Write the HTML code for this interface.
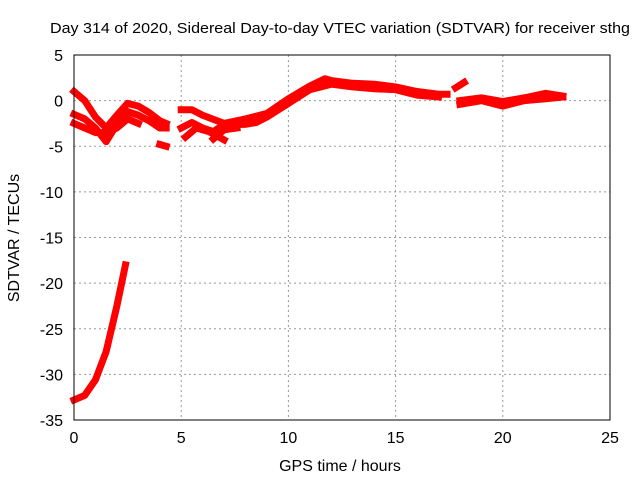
<!DOCTYPE html>
<html><head><meta charset="utf-8"><style>
body{margin:0;background:#fff;}
svg{display:block;font-family:"Liberation Sans",sans-serif;}
</style></head><body>
<svg id="chart" width="640" height="480">
<text x="340" y="33" font-size="15" text-anchor="middle" textLength="580" lengthAdjust="spacingAndGlyphs">Day 314 of 2020, Sidereal Day-to-day VTEC variation (SDTVAR) for receiver sthg</text>
<text x="340" y="471" font-size="16" text-anchor="middle">GPS time / hours</text>
<text transform="translate(19,238) rotate(-90)" font-size="16" text-anchor="middle">SDTVAR / TECUs</text>
<g id="grid"></g><g id="marks"></g>
<rect x="74" y="55" width="536" height="365" fill="none" stroke="#000"/>
</svg>
<script>
const xTicks=[0,5,10,15,20,25];
const yTicks=[5,0,-5,-10,-15,-20,-25,-30,-35];
const track1=[[0,1],[0.5,0],[1,-1.8],[1.5,-3],[2,-1.6],[2.5,-0.3],[3,-0.6],[3.5,-1.3],[4,-2.2],[4.3,-2.5]];
const track2=[[0,-1.5],[0.5,-2],[1,-3],[1.5,-4.5],[2,-2.6],[2.5,-1.2],[3,-1.6],[3.5,-2.2],[4,-3],[4.3,-3]];
const track3=[[0,-2.5],[0.5,-3],[1,-3.5],[1.5,-3.5],[2,-3],[2.5,-2],[3,-2.5]];
const blob=[[4,-4.8],[4.3,-5]];
const track4=[[5,-1],[5.5,-1],[6,-1.6],[7,-2.5],[8,-2],[9,-1.4],[10,0.2],[11,1.6],[11.7,2.4],[12,2.2],[13,1.9],[14,1.8],[15,1.5],[16,1],[17,0.7],[17.4,0.7]];
const track5=[[5,-3],[5.5,-2.4],[6,-3],[6.5,-3.4],[7,-2.6],[8,-2.6],[8.5,-2.4],[9,-1.8],[10,-0.3],[11,1.2],[12,1.8],[13,1.5],[14,1.3],[15,1.2],[16,0.6],[17,0.4]];
const track6=[[5.2,-4],[5.7,-3],[6.3,-3.4],[7,-4.3]];
const track7=[[6.5,-4.2],[7,-3.2],[7.6,-3]];
const track8=[[17.8,1.4],[18.2,2]];
const track9=[[18,0],[19,0.3],[20,-0.1],[21,0.3],[22,0.8],[22.8,0.5]];
const track10=[[18,-0.4],[19,0],[20,-0.6],[21,0],[22,0.2],[22.8,0.4]];
const track11=[[0,-32.8],[0.5,-32.3],[1,-30.6],[1.5,-27.5],[2,-22.5],[2.4,-18]];
const series=[track1,track2,track3,blob,track4,track5,track6,track7,track8,track9,track10,track11];
const X=h=>74+h*536/25, Y=v=>55+(5-v)*365/40;
const NS="http://www.w3.org/2000/svg";
const g=document.getElementById('grid'), m=document.getElementById('marks');
xTicks.forEach(t=>{
 const l=document.createElementNS(NS,'line');
 
 
 l.setAttribute('x1',X(t));l.setAttribute('x2',X(t));l.setAttribute('y1',55);l.setAttribute('y2',420);
 l.setAttribute('stroke',(t==0||t==25)?'none':'#999');l.setAttribute('stroke-dasharray','2,3');g.appendChild(l);
 const tx=document.createElementNS(NS,'text');
 
 
 tx.setAttribute('x',X(t));tx.setAttribute('y',443);tx.setAttribute('font-size','16');tx.setAttribute('text-anchor','middle');tx.textContent=t;g.appendChild(tx);
});
yTicks.forEach(t=>{
 const l=document.createElementNS(NS,'line');
 
 
 l.setAttribute('x1',74);l.setAttribute('x2',610);l.setAttribute('y1',Y(t));l.setAttribute('y2',Y(t));
 l.setAttribute('stroke',(t==5||t==-35)?'none':'#999');l.setAttribute('stroke-dasharray','2,3');g.appendChild(l);
 const tx=document.createElementNS(NS,'text');
 
 
 tx.setAttribute('x',63);tx.setAttribute('y',Y(t)+6);tx.setAttribute('font-size','16');tx.setAttribute('text-anchor','end');tx.textContent=t;g.appendChild(tx);
});
series.forEach(s=>{
 const p=document.createElementNS(NS,'polyline');
 
 
 p.setAttribute('points',s.map(d=>X(d[0])+','+Y(d[1])).join(' '));
 p.setAttribute('fill','none');p.setAttribute('stroke','#f00');p.setAttribute('stroke-width','7');
 p.setAttribute('stroke-linejoin','round');p.setAttribute('stroke-linecap','square');m.appendChild(p);
});
</script>
</body></html>
